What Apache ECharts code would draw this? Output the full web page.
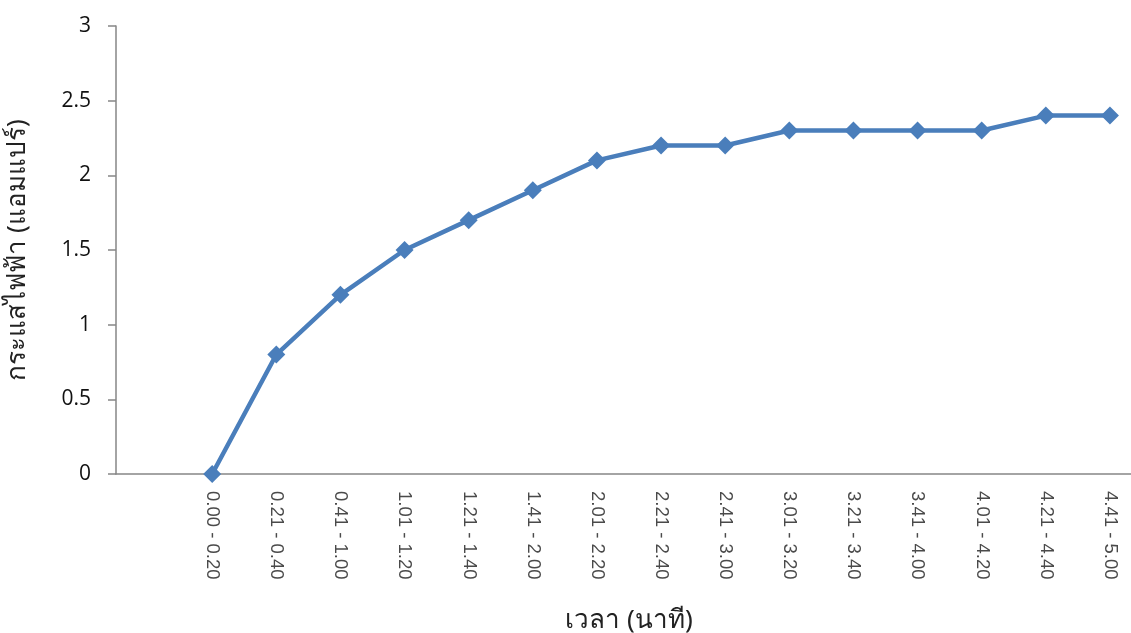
<!DOCTYPE html>
<html>
<head>
<meta charset="utf-8">
<script src="https://cdn.jsdelivr.net/npm/echarts@6/dist/echarts.min.js"></script>
<style>
html,body{margin:0;padding:0;background:#fff;}
#chart{width:1131px;height:633px;}
</style>
</head>
<body>
<div id="chart"></div>
<script>
// Time intervals (minutes); the first slot is left blank
const timeRanges = ['', '0.00 - 0.20', '0.21 - 0.40', '0.41 - 1.00', '1.01 - 1.20', '1.21 - 1.40',
  '1.41 - 2.00', '2.01 - 2.20', '2.21 - 2.40', '2.41 - 3.00', '3.01 - 3.20', '3.21 - 3.40',
  '3.41 - 4.00', '4.01 - 4.20', '4.21 - 4.40', '4.41 - 5.00'];
// Current (amperes) for each interval
const current = [null, 0, 0.8, 1.2, 1.5, 1.7, 1.9, 2.1, 2.2, 2.2, 2.3, 2.3, 2.3, 2.3, 2.4, 2.4];

const axisGrey = '#868686';
const thaiFont = '"Noto Sans", sans-serif';
const chart = echarts.init(document.getElementById('chart'));
chart.setOption({
  animation: false,
  grid: { left: 116, top: 26, width: 1026, bottom: 159, containLabel: false, outerBoundsMode: 'none' },
  xAxis: {
    type: 'category',
    data: timeRanges,
    boundaryGap: true,
    name: 'เวลา (นาที)',
    nameLocation: 'middle',
    nameGap: 134,
    nameTextStyle: { fontSize: 26, color: '#222', fontFamily: thaiFont },
    axisLine: { lineStyle: { color: axisGrey, width: 1.5 } },
    axisTick: { length: 8, lineStyle: { color: axisGrey, width: 1.5 } },
    axisLabel: {
      rotate: -90, interval: 0, margin: 17,
      fontSize: 18.5, color: '#4a4a4a', fontFamily: '"Liberation Sans", Arial, sans-serif'
    },
    splitLine: { show: false }
  },
  yAxis: {
    type: 'value',
    min: 0, max: 3, interval: 0.5,
    name: 'กระแสไฟฟ้า (แอมแปร์)',
    nameLocation: 'middle',
    nameGap: 85,
    nameRotate: 90,
    nameTextStyle: { fontSize: 26, color: '#222', fontFamily: thaiFont },
    axisLine: { show: true, lineStyle: { color: axisGrey, width: 1.5 } },
    axisTick: { show: true, length: 8, lineStyle: { color: axisGrey, width: 1.5 } },
    axisLabel: { fontSize: 21, color: '#111', margin: 25, fontFamily: '"Open Sans", sans-serif' },
    splitLine: { show: false }
  },
  series: [{
    type: 'line',
    data: current,
    connectNulls: false,
    symbol: 'diamond',
    symbolSize: 18,
    lineStyle: { color: '#4A7EBB', width: 4.5 },
    itemStyle: { color: '#4A7EBB' }
  }]
});
</script>
</body>
</html>
